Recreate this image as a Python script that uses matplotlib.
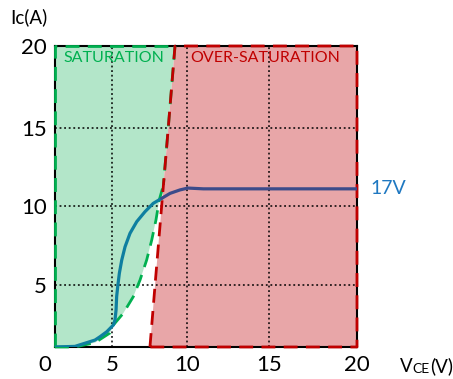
import matplotlib
matplotlib.use("Agg")
import matplotlib.pyplot as plt
import matplotlib.transforms as mtransforms
import numpy as np

plt.rcParams['font.family'] = ['Lato', 'DejaVu Sans']

## tick values and where they sit on the (hand drawn, uneven) axes
x_ticks = [0, 5, 10, 15, 20]
y_ticks = [0, 5, 10, 15, 20]
x_tick_pos = [0, 57, 132, 214, 302]
y_tick_pos = [0, 62, 141, 219, 301]

## 17V output curve
vce = [0, 1.75, 3.51, 3.95, 4.54, 5.09, 5.2, 5.27, 5.31, 5.38, 5.49, 5.65, 5.87, 6.2,
       6.65, 7.2, 7.75, 8.31, 8.87, 9.53, 10.05, 11, 20]
ic = [0.0, 0.05, 0.56, 0.83, 1.23, 1.77, 2.18, 2.98, 4.06, 4.86, 5.74, 6.58, 7.42, 8.27,
      9.01, 9.64, 10.17, 10.49, 10.81, 11.03, 11.15, 11.1, 11.1]
split = 18  # teal part / navy part

## saturation boundary curve (green) and over-saturation line (red)
sat_x = [0, 1.75, 3.51, 4.82, 5.09, 5.75, 6.42, 6.87, 7.31, 7.65, 7.93, 8.15, 8.43]
sat_y = [0, 0, 0.35, 1.13, 1.77, 2.72, 4.06, 5.32, 6.58, 7.85, 9.11, 10.38, 11.35]
over_x = [7.53, 7.87, 8.31, 8.75, 9.2]
over_y = [0, 5, 10, 15, 20]


def make_scale(vals, pos):
    vals = [vals[0] - 5] + list(vals) + [vals[-1] + 5]
    pos = [pos[0] - (pos[1] - pos[0])] + list(pos) + [pos[-1] + (pos[-1] - pos[-2])]
    fwd = lambda v: np.interp(v, vals, pos)
    inv = lambda p: np.interp(p, pos, vals)
    return fwd, inv


fig = plt.figure(figsize=(4.53, 3.79), dpi=100)
ax = fig.add_axes([55 / 453, 1 - 347 / 379, 302 / 453, 301 / 379])
ax.set_xscale('function', functions=make_scale(x_ticks, x_tick_pos))
ax.set_yscale('function', functions=make_scale(y_ticks, y_tick_pos))
ax.set_xlim(0, 20)
ax.set_ylim(0, 20)

green_fill = '#b3e6c9'
green = '#00b050'
red_fill = '#e8a6a8'
red = '#c00000'

# saturation region
gx = [0, 0, over_x[-1], over_x[-2]] + sat_x[::-1]
gy = [0, 20, 20, over_y[-2]] + sat_y[::-1]
ax.fill(gx, gy, color=green_fill, lw=0, zorder=1)
ax.plot([0, 0, over_x[-1]], [0, 20, 20], color=green, lw=2, dashes=(5, 3), zorder=4, clip_on=False)
ax.plot(sat_x, sat_y, color=green, lw=2, dashes=(5, 3), zorder=4, clip_on=False)
ax.plot([over_x[-1], over_x[-2], sat_x[-1]], [20, over_y[-2], sat_y[-1]], color=green, lw=2,
        dashes=(5, 3), zorder=4, clip_on=False)

# over-saturation region
rx = over_x + [20, 20, over_x[0]]
ry = over_y + [20, 0, 0]
ax.fill(rx, ry, color=red_fill, lw=0, zorder=1)
ax.plot(rx, ry, color=red, lw=2, dashes=(5, 3), dash_capstyle='butt', zorder=4.5, clip_on=False)

# curve
ax.plot(vce[:split], ic[:split], color='#0e7fa0', lw=2.3, zorder=5, solid_capstyle='round')
ax.plot(vce[split - 1:], ic[split - 1:], color='#3c4b8a', lw=2.3, zorder=5, solid_capstyle='round')

# grid
ax.set_xticks(x_ticks)
ax.set_yticks(y_ticks[1:])
ax.set_axisbelow(False)
ax.grid(True, color='black', lw=1.1, linestyle=(0, (1.2, 1.8)))
ax.tick_params(length=0, labelsize=16, pad=6)
for s in ax.spines.values():
    s.set_color('black')
    s.set_linewidth(1.5)
    s.set_zorder(3)
lab0 = ax.get_xticklabels()[0]
lab0.set_transform(lab0.get_transform() + mtransforms.ScaledTranslation(-0.1, 0, fig.dpi_scale_trans))

ax.text(0.027, 0.96, 'SATURATION', transform=ax.transAxes, color=green, fontsize=11.5,
        va='center', ha='left', zorder=6)
ax.text(0.447, 0.96, 'OVER-SATURATION', transform=ax.transAxes, color=red, fontsize=11.5,
        va='center', ha='left', zorder=6)

trans = mtransforms.blended_transform_factory(ax.transAxes, ax.transData)
ax.text(1.045, ic[-1], '17V', transform=trans, color='#1f78c1', fontsize=14, va='center', ha='left')

fig.text(10 / 453, 1 - 17 / 379, 'Ic(A)', fontsize=13.5, va='center', ha='left')
t1 = fig.text(400 / 453, 1 - 372 / 379, 'V', fontsize=13.5, va='baseline', ha='left')
t2 = ax.annotate('CE', xy=(1, 0), xycoords=t1, fontsize=10, va='bottom', ha='left')
ax.annotate('(V)', xy=(1, 0), xycoords=t2, fontsize=13.5, va='bottom', ha='left')

fig.savefig('out.png', dpi=100)
